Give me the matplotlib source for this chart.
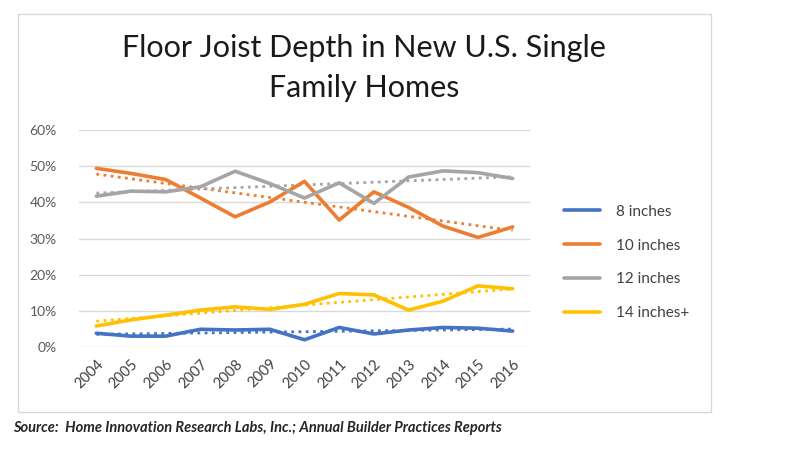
import numpy as np
import matplotlib
matplotlib.use("Agg")
import matplotlib.pyplot as plt
from matplotlib.patches import Rectangle

years = ["2004", "2005", "2006", "2007", "2008", "2009", "2010",
         "2011", "2012", "2013", "2014", "2015", "2016"]
in8 = [3.8, 3.0, 3.0, 4.9, 4.7, 4.9, 2.0, 5.4, 3.6, 4.7, 5.4, 5.2, 4.4]
in10 = [49.4, 48.0, 46.3, 41.2, 36.0, 40.1, 45.8, 35.1, 42.9, 38.6, 33.4, 30.3, 33.2]
in12 = [41.7, 43.1, 42.9, 44.3, 48.6, 45.2, 41.2, 45.4, 39.7, 47.0, 48.7, 48.2, 46.6]
in14 = [5.8, 7.5, 8.8, 10.2, 11.1, 10.4, 11.8, 14.8, 14.4, 10.2, 12.7, 16.9, 16.1]
series_names = ["8 inches", "10 inches", "12 inches", "14 inches+"]
yticks = [0, 10, 20, 30, 40, 50, 60]

colors = ["#4472C4", "#ED7D31", "#A5A5A5", "#FFC000"]
FONT = "Lato"

W, H = 799, 451
fig = plt.figure(figsize=(W / 100, H / 100), dpi=100)
fig.patch.set_facecolor("white")

# chart border
fig.patches.append(Rectangle((18 / W, 1 - 412 / H), (711 - 18) / W, (412 - 14) / H,
                             transform=fig.transFigure, fill=False,
                             edgecolor="#D9D9D9", linewidth=1.0))

ax = fig.add_axes([79 / W, 1 - 347 / H, (530 - 79) / W, (347 - 130) / H])
x = np.arange(len(years))
all_series = [in8, in10, in12, in14]
for vals, c, name in zip(all_series, colors, series_names):
    v = np.array(vals) / 100.0
    ax.plot(x, v, color=c, linewidth=2.6, label=name, solid_capstyle="round", zorder=3)
    k, b = np.polyfit(x, v, 1)
    ax.plot(x, k * x + b, color=c, linewidth=2.0, linestyle=(0, (1, 1.6)), zorder=2)

ax.set_xlim(-0.5, len(years) - 0.5)
ax.set_ylim(0, 0.6)
ax.set_yticks([t / 100 for t in yticks])
ax.set_yticklabels([f"{t}%" for t in yticks], fontfamily=FONT, fontsize=10, color="#595959")
ax.set_xticks(x)
ax.set_xticklabels(years, rotation=45, ha="right", rotation_mode="anchor",
                   fontfamily=FONT, fontsize=10.5, color="#404040")
ax.tick_params(axis="both", length=0)
ax.tick_params(axis="y", pad=16)
ax.tick_params(axis="x", pad=7)
ax.grid(axis="y", color="#D9D9D9", linewidth=1.0)
ax.set_axisbelow(True)
for s in ax.spines.values():
    s.set_visible(False)

leg = fig.legend(handles=ax.get_lines()[0::2], labels=series_names,
                 loc="center left", bbox_to_anchor=(550 / W, 1 - 262.5 / H),
                 frameon=False, prop={"family": FONT, "size": 11},
                 handlelength=2.4, labelspacing=1.3, handletextpad=1.0)
for t in leg.get_texts():
    t.set_color("#404040")

fig.text(364 / W, 1 - 68 / H, "Floor Joist Depth in New U.S. Single\nFamily Homes",
         ha="center", va="center", fontfamily=FONT, fontsize=22, color="#1a1a1a",
         linespacing=1.5)

fig.text(13 / W, 1 - 428 / H,
         "Source:  Home Innovation Research Labs, Inc.; Annual Builder Practices Reports",
         ha="left", va="center", fontfamily=FONT, fontsize=10.5, fontweight="bold",
         fontstyle="italic", color="#262626")

fig.savefig("out.png", dpi=100, facecolor="white")
